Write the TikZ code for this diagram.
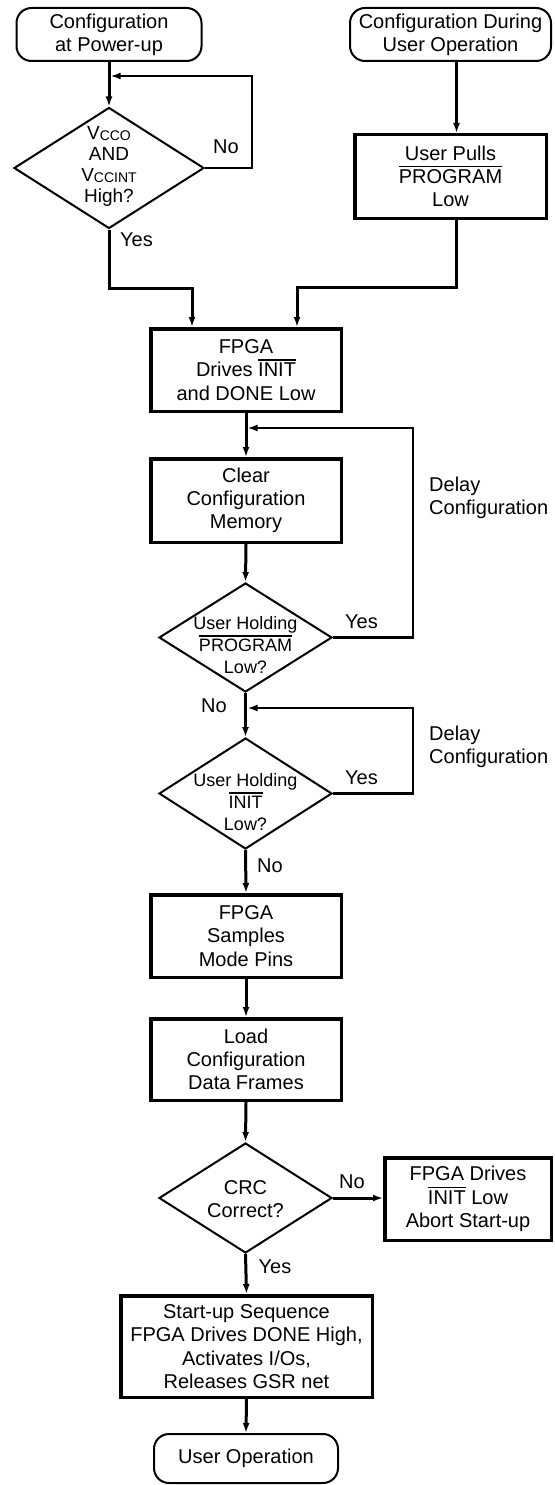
\documentclass[tikz,border=0pt]{standalone}
\usepackage{fontspec}
\setmainfont{Liberation Sans}
\usetikzlibrary{shapes.geometric,arrows.meta}

% overlined signal name (active-low pins)
\newcommand\ovl[1]{\vbox{\hrule height 1.6pt\kern 2.2pt\hbox{#1}}}
% supply-rail subscript
\newcommand\rail[1]{\raisebox{-1.5pt}{\fontsize{14}{14}\selectfont #1}}
\newcommand\fsmain{\fontsize{20}{23.3}\selectfont}
\newcommand\fsdiam{\fontsize{18}{22}\selectfont}

\tikzset{
  term/.style={draw, line width=2pt, rounded corners=15pt, align=center,
    inner sep=0pt, font=\fsmain},
  stepbox/.style={draw, line width=3.5pt, align=center, inner sep=0pt,
    font=\fsmain},
  decision/.style={diamond, draw, line width=2pt, inner sep=0pt},
  dtext/.style={align=center, inner sep=0pt},
  lbl/.style={inner sep=0pt, font=\fsmain},
  flow/.style={-{Latex[length=10pt,width=7pt]}, line width=3pt},
  back/.style={-{Latex[length=10pt,width=7pt]}, line width=2.5pt},
}

\begin{document}
\begin{tikzpicture}[x=1pt,y=-1pt]
\useasboundingbox (0,0) rectangle (554,1485);

% ---- power-up entry ----
\node[term, minimum width=185pt, minimum height=53pt] (s1) at (109,34.5)
  {Configuration\\at Power-up};
\node[decision, minimum width=190pt, minimum height=121pt] (d1) at (109,168) {};
\node[dtext, font=\fontsize{19}{21}\selectfont] (d1t) at (109,166)
  {V\rail{CCO}\\AND\\V\rail{CCINT}\\High?};
\coordinate (j1) at (110.5,76);

% ---- user-operation entry ----
\node[term, minimum width=201pt, minimum height=53pt] (s2) at (450.5,34.5)
  {Configuration During\\User Operation};
\node[stepbox, minimum width=191.5pt, minimum height=83.5pt] (b2) at (450.5,176.5)
  {User Pulls\\\ovl{PROGRAM}\\Low};

% ---- main column ----
\node[stepbox, minimum width=190.5pt, minimum height=82.5pt] (b3) at (246,370)
  {FPGA\\Drives \ovl{INIT}\\and DONE Low};
\node[stepbox, minimum width=190.5pt, minimum height=83.5pt] (b4) at (246,500.5)
  {Clear\\Configuration\\Memory};
\coordinate (j2) at (247.5,428);

\node[decision, minimum width=173pt, minimum height=109pt] (d2) at (245.5,637.5) {};
\node[dtext, font=\fsdiam] (d2t) at (245.5,645) {User Holding\\\ovl{PROGRAM}\\Low?};
\coordinate (j3) at (247.5,708);

\node[decision, minimum width=173pt, minimum height=111pt] (d3) at (245.5,793.5) {};
\node[dtext, font=\fsdiam] (d3t) at (245.5,802) {User Holding\\\ovl{INIT}\\Low?};

\node[stepbox, minimum width=190.5pt, minimum height=82.5pt] (b5) at (246,936)
  {FPGA\\Samples\\Mode Pins};
\node[stepbox, minimum width=190.5pt, minimum height=81.5pt] (b6) at (246,1059.5)
  {Load\\Configuration\\Data Frames};

\node[decision, minimum width=173pt, minimum height=110pt] (d4) at (245.5,1198) {};
\node[dtext, font=\fsmain] (d4t) at (245.5,1199) {CRC\\Correct?};

\node[stepbox, minimum width=166.5pt, minimum height=82.5pt] (b7) at (468,1199)
  {FPGA Drives\\\ovl{INIT} Low\\Abort Start-up};

\node[stepbox, minimum width=251.5pt, minimum height=101.5pt] (b8) at (246.5,1346.5)
  {Start-up Sequence\\FPGA Drives DONE High,\\Activates I/Os,\\Releases GSR net};
\node[term, minimum width=184pt, minimum height=49pt] (e) at (246,1458.5)
  {User Operation};

% ---- connectors ----
\draw[flow] (s1.south) -- (d1.north);
\draw[back] (d1.east) -- (252,168) |- (j1);
\draw[flow] (d1.south) -- (109,288) -| ([xshift=-54pt]b3.north);

\draw[flow] ([xshift=6pt]s2.south) -- ([xshift=6pt]b2.north);
\draw[flow] ([xshift=6pt]b2.south) -- (456.5,287) -| ([xshift=51pt]b3.north);

\draw[flow] (b3.south) -- (b4.north);
\draw[flow] (b4.south) -- (d2.north);
\draw[back] (d2.east) -- (413,637.5) |- (j2);
\draw[flow] (d2.south) -- (d3.north);
\draw[back] (d3.east) -- (413,793.5) |- (j3);
\draw[flow] (d3.south) -- (b5.north);
\draw[flow] (b5.south) -- (b6.north);
\draw[flow] (b6.south) -- (d4.north);
\draw[flow] (d4.east) -- (d4.east -| b7.west);
\draw[flow] (d4.south) -- (b8.north);
\draw[flow] (b8.south) -- (e.north);

% ---- branch labels ----
\node[lbl] (n1) at (226,147) {No};
\node[lbl, anchor=west] (y1) at (120,240) {Yes};
\node[lbl] (y2) at (361.5,622) {Yes};
\node[lbl, align=left, anchor=west] (dc1) at (429,498) {Delay\\Configuration};
\node[lbl] (n2) at (214,706) {No};
\node[lbl] (y3) at (361.5,778) {Yes};
\node[lbl, align=left, anchor=west] (dc2) at (429,747) {Delay\\Configuration};
\node[lbl] (n3) at (270,866) {No};
\node[lbl] (n4) at (352,1182) {No};
\node[lbl] (y4) at (275,1267) {Yes};
\end{tikzpicture}
\end{document}
